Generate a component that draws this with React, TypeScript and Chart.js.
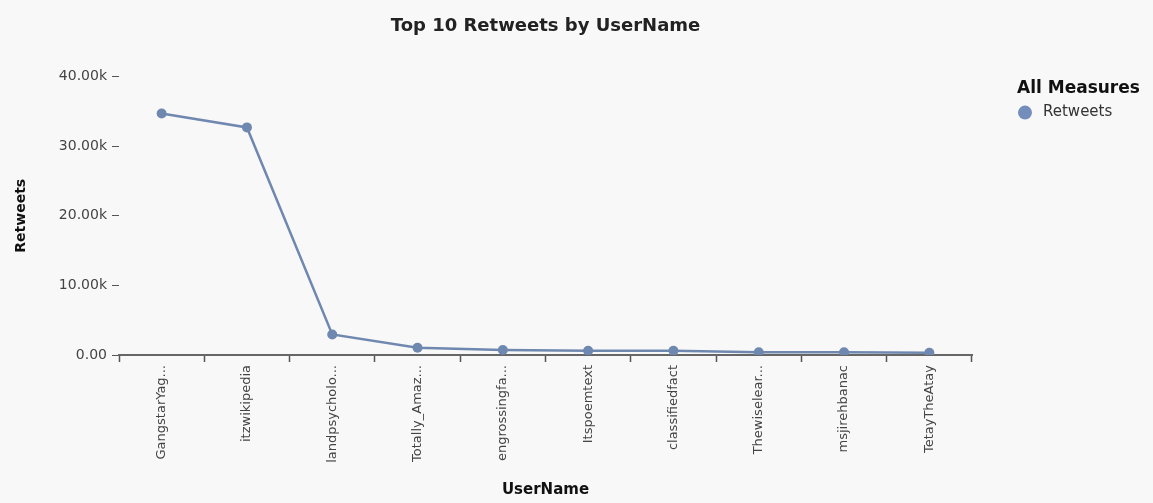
import React, { useEffect, useRef } from "react";
import { Chart, registerables } from "chart.js";

Chart.register(...registerables);

const userNames = [
  "GangstarYag...",
  "itzwikipedia",
  "landpsycholo...",
  "Totally_Amaz...",
  "engrossingfa...",
  "Itspoemtext",
  "classifiedfact",
  "Thewiselear...",
  "msjirehbanac",
  "TetayTheAtay",
];
const retweets = [34700, 32700, 2950, 1050, 720, 600, 620, 400, 390, 320];
const yTickValues = [0, 10000, 20000, 30000, 40000];
const seriesName = "Retweets";
const legendTitle = "All Measures";

const FONT = "'DejaVu Sans', 'Liberation Sans', Arial, sans-serif";
const LINE = "rgb(111,136,176)";
const LEGEND_DOT = "rgb(116,142,188)";

const sideLegend = {
  id: "sideLegend",
  afterDraw(chart: any) {
    const ctx = chart.ctx;
    const area = chart.chartArea;
    const x0 = area.right + 45;
    const y0 = area.top + 12;
    ctx.save();
    ctx.textBaseline = "middle";
    ctx.textAlign = "left";
    ctx.fillStyle = "#111";
    ctx.font = `bold 17px ${FONT}`;
    ctx.fillText(legendTitle, x0, y0);
    chart.data.datasets.forEach((d: any, i: number) => {
      const cy = y0 + 24 + i * 22;
      ctx.fillStyle = LEGEND_DOT;
      ctx.beginPath();
      ctx.arc(x0 + 8, cy, 7, 0, Math.PI * 2);
      ctx.fill();
      ctx.fillStyle = "#333";
      ctx.font = `15px ${FONT}`;
      ctx.fillText(d.label, x0 + 26, cy);
    });
    ctx.restore();
  },
};

export default function App() {
  const ref = useRef<HTMLCanvasElement>(null);
  useEffect(() => {
    document.body.style.margin = "0";
    document.body.style.background = "#f8f8f8";
    const chart = new Chart(ref.current!, {
      type: "line",
      data: {
        labels: userNames,
        datasets: [
          {
            label: seriesName,
            data: retweets,
            borderColor: LINE,
            backgroundColor: LINE,
            borderWidth: 2.5,
            pointRadius: 5,
            pointBackgroundColor: LINE,
            pointBorderWidth: 0,
            tension: 0,
          },
        ],
      },
      plugins: [sideLegend],
      options: {
        animation: false,
        responsive: false,
        layout: { padding: { left: 0, right: 181, top: 6, bottom: 0 } },
        plugins: {
          title: {
            display: true,
            text: "Top 10 Retweets by UserName",
            fullSize: false,
            color: "#222",
            font: { family: FONT, size: 18, weight: "bold" },
            padding: { top: 10, bottom: 39 },
          },
          legend: { display: false },
          tooltip: { enabled: false },
        },
        scales: {
          x: {
            type: "category",
            offset: true,
            afterFit: (s: any) => {
              s.height = 148;
            },
            grid: {
              offset: true,
              drawOnChartArea: false,
              drawTicks: true,
              tickLength: 7,
              tickColor: "#555",
              tickWidth: 1.5,
            },
            border: { display: true, color: "#666", width: 2 },
            ticks: {
              minRotation: 90,
              maxRotation: 90,
              autoSkip: false,
              color: "#444",
              padding: 3,
              font: { family: FONT, size: 13 },
            },
            title: {
              display: true,
              text: "UserName",
              color: "#111",
              font: { family: FONT, size: 15, weight: "bold" },
              padding: { top: 10, bottom: 4 },
            },
          },
          y: {
            min: 0,
            max: 40000,
            afterFit: (s: any) => {
              s.width = 119;
            },
            afterBuildTicks: (s: any) => {
              s.ticks = yTickValues.map((v) => ({ value: v }));
            },
            grid: {
              drawOnChartArea: false,
              drawTicks: true,
              tickLength: 7,
              tickColor: "#555",
              tickWidth: 1,
            },
            border: { display: false },
            ticks: {
              color: "#444",
              padding: 5,
              font: { family: FONT, size: 14 },
              callback: (v: any) =>
                Number(v) === 0 ? "0.00" : (Number(v) / 1000).toFixed(2) + "k",
            },
            title: {
              display: true,
              text: "Retweets",
              color: "#111",
              font: { family: FONT, size: 14, weight: "bold" },
              padding: { top: 13, bottom: 0 },
            },
          },
        },
      },
    });
    return () => chart.destroy();
  }, []);
  return (
    <div style={{ width: 1153, height: 503, background: "#f8f8f8" }}>
      <canvas ref={ref} width={1153} height={503} />
    </div>
  );
}
